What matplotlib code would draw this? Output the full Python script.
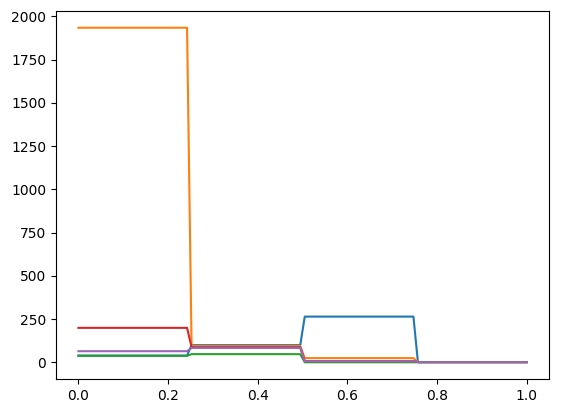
import numpy as np
import matplotlib
matplotlib.use("Agg")
import matplotlib.pyplot as plt

# x samples and level of each series in the four quarters of [0, 1]
x = np.linspace(0, 1, 100)
points_per_quarter = [25, 25, 25, 25]

blue = [40, 100, 265, 2]
orange = [1935, 95, 25, 2]
green = [38, 48, 1, 1]
red = [200, 88, 8, 2]
purple = [65, 84, 7, 2]

fig = plt.figure(figsize=(5.61, 4.13), dpi=100)
ax = fig.add_axes([56/561, (413-379)/413, (549-56)/561, (379-11)/413])

for levels in [blue, orange, green, red, purple]:
    ax.plot(x, np.repeat(levels, points_per_quarter))

fig.savefig("out.png", dpi=100)
